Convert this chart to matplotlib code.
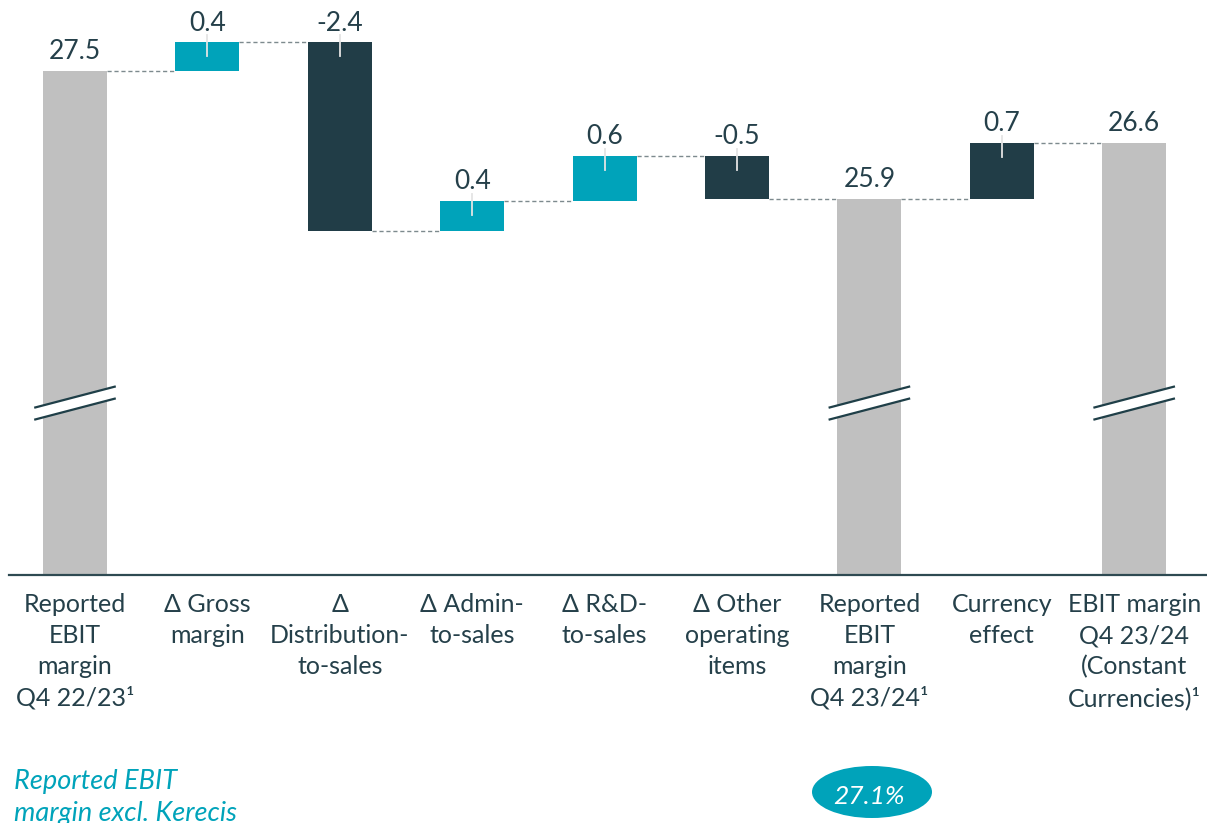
import matplotlib.pyplot as plt
from matplotlib.patches import Ellipse, Polygon
from matplotlib.transforms import blended_transform_factory

plt.rcParams['font.family'] = ['Lato', 'DejaVu Sans']

# EBIT margin bridge, Q4 22/23 -> Q4 23/24 (%)
categories = [
    'Reported\nEBIT\nmargin\nQ4 22/23\u00b9',
    '\u0394 Gross\nmargin',
    '\u0394\nDistribution-\nto-sales',
    '\u0394 Admin-\nto-sales',
    '\u0394 R&D-\nto-sales',
    '\u0394 Other\noperating\nitems',
    'Reported\nEBIT\nmargin\nQ4 23/24\u00b9',
    'Currency\neffect',
    'EBIT margin\nQ4 23/24\n(Constant\nCurrencies)\u00b9',
]
kinds = ['total', 'delta', 'delta', 'delta', 'delta', 'delta', 'total', 'delta', 'total']
values = [27.5, 0.36, -2.36, 0.38, 0.56, -0.54, 25.9, 0.7, 26.6]
excl_kerecis = 27.1

TEAL = '#00A3BA'
DARK = '#213D47'
GREY = '#C0C0C0'
TEXT = '#25404A'
bar_colors = [GREY, TEAL, DARK, TEAL, TEAL, DARK, GREY, DARK, GREY]

ymin, ymax = 21.2, 28.39

fig = plt.figure(figsize=(12.07, 8.23), dpi=100)
ax = fig.add_axes([9 / 1207, 248 / 823, 1198 / 1207, 575 / 823])
ax.set_xlim(-0.4985, 8.55)
ax.set_ylim(ymin, ymax)

w = 0.483
level = None
ends = []
for i, (kind, v) in enumerate(zip(kinds, values)):
    if kind == 'total':
        ax.bar(i, v - ymin, bottom=ymin, width=w, color=bar_colors[i], zorder=2)
        top = v
        level = v
    else:
        start = level
        level = start + v
        ax.bar(i, v, bottom=start, width=w, color=bar_colors[i], zorder=2)
        top = max(start, level)
        # small leader tick over the bar top
        ax.plot([i, i], [top + 0.09, top - 0.175], color='#E4E4E4', lw=1.3, zorder=3)
    ends.append(level)
    ax.annotate(f'{v:.1f}', (i, top), xytext=(0, 8.5), textcoords='offset points',
                ha='center', va='baseline', fontsize=19, color=TEXT)

# dashed connectors between neighbouring bars
for i in range(len(values) - 1):
    ax.plot([i + w / 2, i + 1 - w / 2], [ends[i], ends[i]], color='#7D8A8E',
            lw=1, dashes=(3, 2), zorder=1)

# axis break marks on the total bars
for i, kind in enumerate(kinds):
    if kind != 'total':
        continue
    v0 = 23.35
    dx, dy, gap = 0.3, 0.13, 0.075
    x0, x1 = i - dx, i + dx
    ax.add_patch(Polygon([[x0, v0 - gap - dy], [x1, v0 - gap + dy],
                          [x1, v0 + gap + dy], [x0, v0 + gap - dy]],
                         closed=True, facecolor='white', edgecolor='none', zorder=4))
    for s in (-gap, gap):
        ax.plot([x0, x1], [v0 + s - dy, v0 + s + dy], color='#1F3F48', lw=1.6, zorder=5)

for side in ('top', 'right', 'left'):
    ax.spines[side].set_visible(False)
ax.spines['bottom'].set_color('#2E4A52')
ax.spines['bottom'].set_linewidth(1.6)
ax.set_yticks([])
ax.set_xticks(range(len(categories)))
ax.set_xticklabels(categories, fontsize=18, color=TEXT, linespacing=1.42)
ax.tick_params(axis='x', length=0, pad=13)

# note row under the chart
fig.text(14 / 1207, 1 - 789 / 823, 'Reported EBIT', fontsize=19.5, style='italic',
         color=TEAL, va='baseline')
fig.text(14 / 1207, 1 - 821 / 823, 'margin excl. Kerecis', fontsize=19.5, style='italic',
         color=TEAL, va='baseline')
tr = blended_transform_factory(ax.transData, fig.transFigure)
ax_px = fig.add_axes([0, 0, 1, 1], zorder=-1)
ax_px.set_xlim(0, 1207)
ax_px.set_ylim(823, 0)
ax_px.axis('off')
ax_px.add_patch(Ellipse((872, 792), 120, 52, facecolor=TEAL, edgecolor='none'))
fig.text(6, 1 - 797 / 823, f'{excl_kerecis:.1f}%', transform=tr, ha='center',
         va='center', fontsize=19, style='italic', color='white')

fig.savefig('out.png', dpi=100)
